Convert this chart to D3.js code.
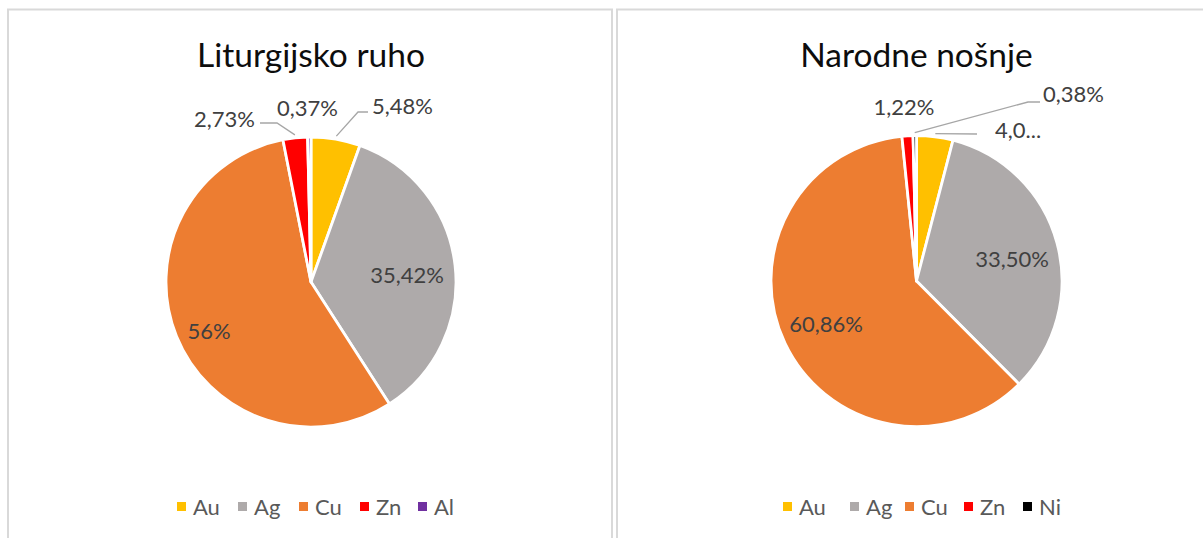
<!DOCTYPE html>
<html><head><meta charset="utf-8">
<script src="https://cdn.jsdelivr.net/npm/d3@7"></script>
<style>
html,body{margin:0;padding:0;background:#fff;}
svg{display:block;}
</style></head>
<body>
<svg id="chart" width="1203" height="538"></svg>
<script>
// ---- data ----
const titles = ["Liturgijsko ruho", "Narodne nošnje"];
const categoriesA = ["Au", "Ag", "Cu", "Zn", "Al"];
const valuesA = [5.48, 35.42, 56, 2.73, 0.37];
const labelsA = ["5,48%", "35,42%", "56%", "2,73%", "0,37%"];
const categoriesB = ["Au", "Ag", "Cu", "Zn", "Ni"];
const valuesB = [4.04, 33.50, 60.86, 1.22, 0.38];
const labelsB = ["4,0...", "33,50%", "60,86%", "1,22%", "0,38%"];

// ---- styles / layout ----
const colorMap = {Au:"#FFC000", Ag:"#AEAAAA", Cu:"#ED7D31", Zn:"#FF0000", Al:"#7030A0", Ni:"#000000"};
const FONT = "Lato, 'Open Sans', sans-serif";
// label layout: inside or outside (label offset from pie centre + leader elbow/end)
const layoutA = [
  {type:"out", lx:61, ly:-176, anchor:"start", elbow:[47,-170], end:[57,-170]},
  {type:"in", lx:96, ly:-7},
  {type:"in", lx:-102, ly:49},
  {type:"out", lx:-56, ly:-163, anchor:"end", elbow:[-34,-159], end:[-51,-159]},
  {type:"out", lx:-3.5, ly:-173.5, anchor:"middle"}
];
const layoutB = [
  {type:"out", lx:78.5, ly:-151, anchor:"start", elbow:[60.5,-147], end:[60.5,-147]},
  {type:"in", lx:95.5, ly:-22},
  {type:"in", lx:-90.5, ly:43},
  {type:"out", lx:-12.5, ly:-174, anchor:"middle"},
  {type:"out", lx:126.5, ly:-186.5, anchor:"start", elbow:[111.5,-179], end:[123.5,-179]}
];

const panels = [
  {x:8, w:604, cx:311, cy:282, r:145, title:titles[0], cats:categoriesA, vals:valuesA, labs:labelsA, lay:layoutA,
   legendX:[177,238,299,360,418]},
  {x:617, w:600, cx:916.5, cy:281, r:145.5, title:titles[1], cats:categoriesB, vals:valuesB, labs:labelsB, lay:layoutB,
   legendX:[783,850,905,964,1023]}
];

const svg = d3.select("#chart");

panels.forEach(p => {
  const g = svg.append("g");
  g.append("rect").attr("x", p.x).attr("y", 9.5).attr("width", p.w).attr("height", 560)
    .attr("fill", "#fff").attr("stroke", "#d9d9d9").attr("stroke-width", 2);

  g.append("text").attr("x", p.cx).attr("y", 67).attr("text-anchor", "middle")
    .attr("font-family", FONT).attr("font-size", 33.5).attr("fill", "#0d0d0d").text(p.title);

  const data = p.cats.map((c, i) => ({cat:c, value:p.vals[i], label:p.labs[i], lay:p.lay[i]}));
  const pie = d3.pie().value(d => d.value).sort(null);
  const arcs = pie(data);
  const arc = d3.arc().innerRadius(0).outerRadius(p.r);
  const color = d3.scaleOrdinal().domain(Object.keys(colorMap)).range(Object.values(colorMap));

  const pg = g.append("g").attr("transform", `translate(${p.cx},${p.cy})`);
  pg.selectAll("path.slice").data(arcs).join("path").attr("class", "slice")
    .attr("d", arc).attr("fill", d => color(d.data.cat))
    .attr("stroke", "#fff").attr("stroke-width", 2.8).attr("stroke-linejoin", "round");

  const edgeArc = d3.arc().innerRadius(p.r + 3).outerRadius(p.r + 3);
  arcs.forEach(a => {
    const L = a.data.lay;
    if (L.elbow) {
      const s = edgeArc.centroid(a);
      pg.append("polyline")
        .attr("points", [s, L.elbow, L.end].map(q => q.join(",")).join(" "))
        .attr("fill", "none").attr("stroke", "#a6a6a6").attr("stroke-width", 1.3);
    }
    pg.append("text").attr("x", L.lx).attr("y", L.ly)
      .attr("dy", "0.35em")
      .attr("text-anchor", L.type === "in" ? "middle" : L.anchor)
      .attr("font-family", FONT).attr("font-size", 22).attr("fill", "#404040")
      .text(a.data.label);
  });

  const lg = g.append("g");
  p.cats.forEach((c, i) => {
    lg.append("rect").attr("x", p.legendX[i]).attr("y", 502).attr("width", 9).attr("height", 9)
      .attr("fill", color(c));
    lg.append("text").attr("x", p.legendX[i] + 16).attr("y", 507).attr("dy", "0.35em")
      .attr("font-family", FONT).attr("font-size", 22).attr("fill", "#595959").text(c);
  });
});
</script>
</body></html>
